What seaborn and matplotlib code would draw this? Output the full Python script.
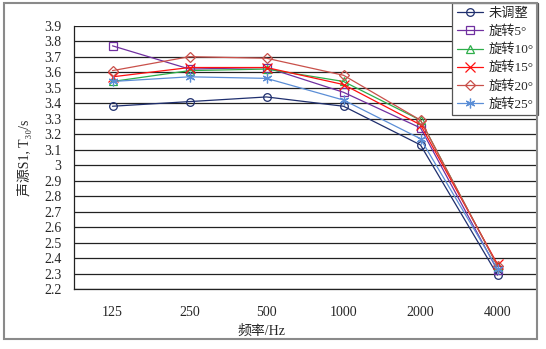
import matplotlib
matplotlib.use("Agg")
import matplotlib.pyplot as plt
import seaborn as sns
import pandas as pd
from matplotlib.lines import Line2D
from matplotlib.patches import Rectangle

# Octave-band centre frequencies (Hz)
categories = ["125", "250", "500", "1000", "2000", "4000"]

# Reverberation time T30 (s) for source S1, per loudspeaker orientation
unadjusted = [3.38, 3.41, 3.44, 3.38, 3.13, 2.29]
rot5 = [3.77, 3.62, 3.63, 3.47, 3.24, 2.32]
rot10 = [3.54, 3.61, 3.62, 3.54, 3.29, 2.35]
rot15 = [3.57, 3.63, 3.63, 3.52, 3.26, 2.36]
rot20 = [3.61, 3.70, 3.69, 3.58, 3.29, 2.35]
rot25 = [3.54, 3.57, 3.56, 3.42, 3.17, 2.33]

series_names = ["未调整", "旋转5°", "旋转10°", "旋转15°", "旋转20°", "旋转25°"]
series_values = [unadjusted, rot5, rot10, rot15, rot20, rot25]

y_ticks = [2.2, 2.3, 2.4, 2.5, 2.6, 2.7, 2.8, 2.9, 3.0,
           3.1, 3.2, 3.3, 3.4, 3.5, 3.6, 3.7, 3.8, 3.9]
y_tick_labels = ["2.2", "2.3", "2.4", "2.5", "2.6", "2.7", "2.8", "2.9", "3",
                 "3.1", "3.2", "3.3", "3.4", "3.5", "3.6", "3.7", "3.8", "3.9"]

colors = ["#1f2f6e", "#7030a0", "#2eae4a", "#ff1010", "#c9504a", "#5b8ed6"]
markers = ["o", "s", "^", "x", "D", (6, 2, 0)]
marker_sizes = [5.5, 6, 6, 6.5, 5, 7]

rows = []
for name, vals in zip(series_names, series_values):
    for i, (cat, v) in enumerate(zip(categories, vals)):
        rows.append({"series": name, "pos": i, "freq": cat, "T30": v})
df = pd.DataFrame(rows)

sns.set_style("white")
fonts = ["Liberation Serif", "Noto Sans CJK SC", "DejaVu Sans"]
plt.rcParams["font.family"] = fonts

fig = plt.figure(figsize=(5.46, 3.49), dpi=100)
ax = fig.add_axes([74 / 546, 1 - 289 / 349, (536 - 74) / 546, (289 - 25.7) / 349])

# horizontal gridlines
for t in y_ticks:
    ax.axhline(t, color="#222222", lw=0.9, zorder=0)

for name, c, m, ms in zip(series_names, colors, markers, marker_sizes):
    sub = df[df["series"] == name]
    sns.lineplot(data=sub, x="pos", y="T30", ax=ax, color=c, marker=m,
                 markersize=ms, markerfacecolor="none", markeredgecolor=c,
                 markeredgewidth=0.9, linewidth=0.9, zorder=3, legend=False)

ax.set_xlim(-0.5, 5.5)
ax.set_ylim(2.2, 3.9)
ax.set_xticks(range(len(categories)))
ax.set_xticklabels(categories, fontsize=10)
ax.set_xticks([i - 0.5 for i in range(len(categories) + 1)], minor=True)
ax.tick_params(axis="x", which="major", length=0, pad=12)
ax.tick_params(axis="x", which="minor", length=4, width=0.8, color="#222222",
               direction="out")
ax.set_yticks(y_ticks)
ax.set_yticklabels(y_tick_labels, fontsize=10)
ax.tick_params(axis="y", length=0, pad=9)

for s in ["top", "right"]:
    ax.spines[s].set_visible(False)
for s in ["left", "bottom"]:
    ax.spines[s].set_color("#222222")
    ax.spines[s].set_linewidth(0.9)

ax.set_xlabel("频率/Hz", fontsize=10)
ax.xaxis.set_label_coords((261 - 74) / 462, -36 / 263.3)
ax.set_ylabel("声源S1, T₃₀/s", fontsize=10)
ax.yaxis.set_label_coords(-(74 - 32) / 462, 0.5)

handles = [Line2D([0], [0], color=c, marker=m, markersize=ms,
                  markerfacecolor="none", markeredgecolor=c,
                  markeredgewidth=0.9, lw=0.9)
           for c, m, ms in zip(colors, markers, marker_sizes)]
leg = ax.legend(handles, series_names, loc="upper right",
                bbox_to_anchor=(538 / 546, 1 - 3 / 349),
                bbox_transform=fig.transFigure, fontsize=9.5,
                frameon=True, fancybox=False, framealpha=1,
                edgecolor="#555555", handlelength=2.0, handletextpad=0.4,
                labelspacing=0.42, borderpad=0.35, borderaxespad=0)
leg.get_frame().set_linewidth(0.9)
leg.set_zorder(10)

# chart-area border
fig.patches.append(Rectangle((4 / 546, 1 - 339 / 349), (537 - 4) / 546,
                             (339 - 3) / 349, transform=fig.transFigure,
                             fill=False, edgecolor="#8a8a8a", lw=1.5))

fig.savefig("out.png", dpi=100)
